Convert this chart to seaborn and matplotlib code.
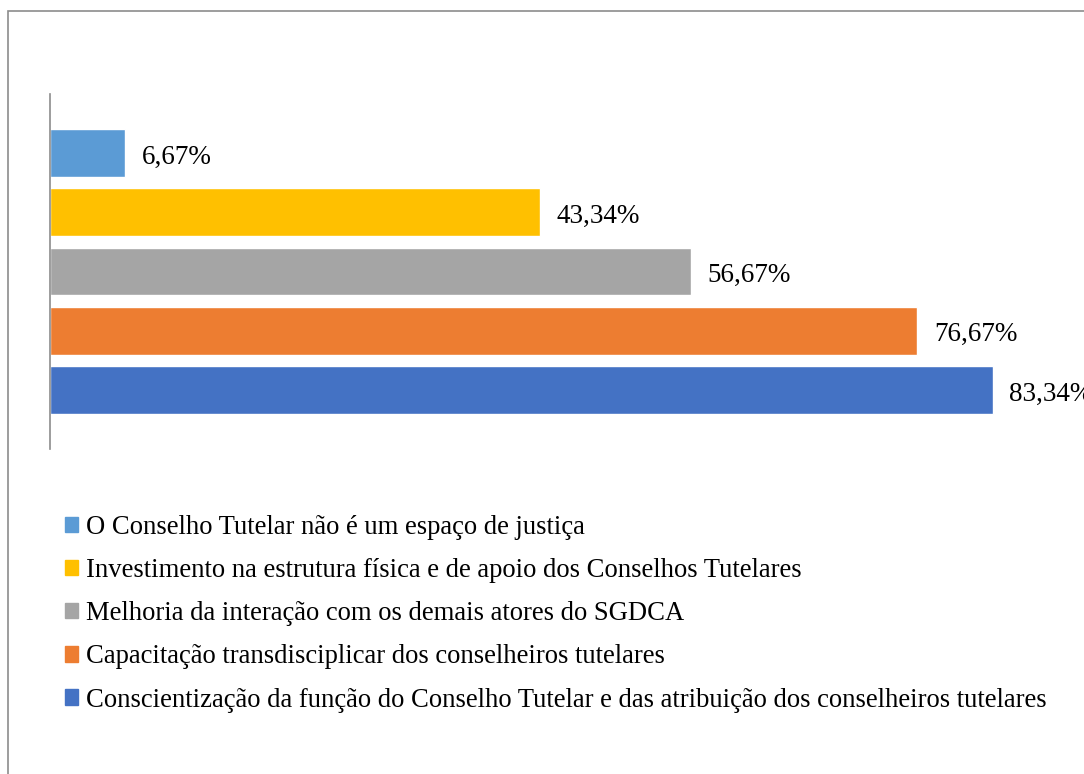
import matplotlib
matplotlib.use("Agg")
import matplotlib.pyplot as plt
import matplotlib.patches as mpatches
import seaborn as sns
import pandas as pd

categorias = [
    "O Conselho Tutelar não é um espaço de justiça",
    "Investimento na estrutura física e de apoio dos Conselhos Tutelares",
    "Melhoria da interação com os demais atores do SGDCA",
    "Capacitação transdisciplicar dos conselheiros tutelares",
    "Conscientização da função do Conselho Tutelar e das atribuição dos conselheiros tutelares",
]
valores = [6.67, 43.34, 56.67, 76.67, 83.34]
rotulos = ["6,67%", "43,34%", "56,67%", "76,67%", "83,34%"]
cores = ["#5B9BD5", "#FFC000", "#A5A5A5", "#ED7D31", "#4472C4"]

df = pd.DataFrame({"categoria": categorias, "valor": valores})

sns.set_style("white")
plt.rcParams['font.family'] = ['Liberation Serif', 'DejaVu Serif']

fig = plt.figure(figsize=(10.84, 7.74), dpi=100)
ax = fig.add_axes([50/1084, (774-449)/774, (1068-50)/1084, 355/774])

sns.barplot(data=df, y="categoria", x="valor", hue="categoria", palette=cores,
            order=categorias, hue_order=categorias, dodge=False, legend=False,
            width=0.81, saturation=1, ax=ax)

for i, c in enumerate(ax.containers):
    txts = ax.bar_label(c, labels=[rotulos[i]], padding=12, fontsize=19.5, color="black")
    for t in txts:
        t.xyann = (12, -3)

ax.set_xlim(0, 90)
ax.set_ylim(5, -1)
ax.set_xlabel("")
ax.set_ylabel("")
ax.set_xticks([])
ax.set_yticks([])
for s in ["top", "right", "bottom"]:
    ax.spines[s].set_visible(False)
ax.spines["left"].set_color("#8c8c8c")
ax.spines["left"].set_linewidth(1.2)

handles = [mpatches.Patch(color=c) for c in cores]
fig.legend(handles, categorias, loc="upper left", bbox_to_anchor=(65/1084, 1 - 515/774),
           frameon=False, fontsize=19.2, labelcolor="black", handlelength=0.5, handleheight=0.5,
           handletextpad=0.27, labelspacing=0.68, borderaxespad=0, borderpad=0)

# moldura cortada do gráfico
fig.add_artist(mpatches.Rectangle((8/1084, -0.1), 1.2, 1.1 - 11/774,
                                  transform=fig.transFigure, fill=False,
                                  edgecolor="#8c8c8c", linewidth=1.2))

plt.savefig("out.png", dpi=100)
